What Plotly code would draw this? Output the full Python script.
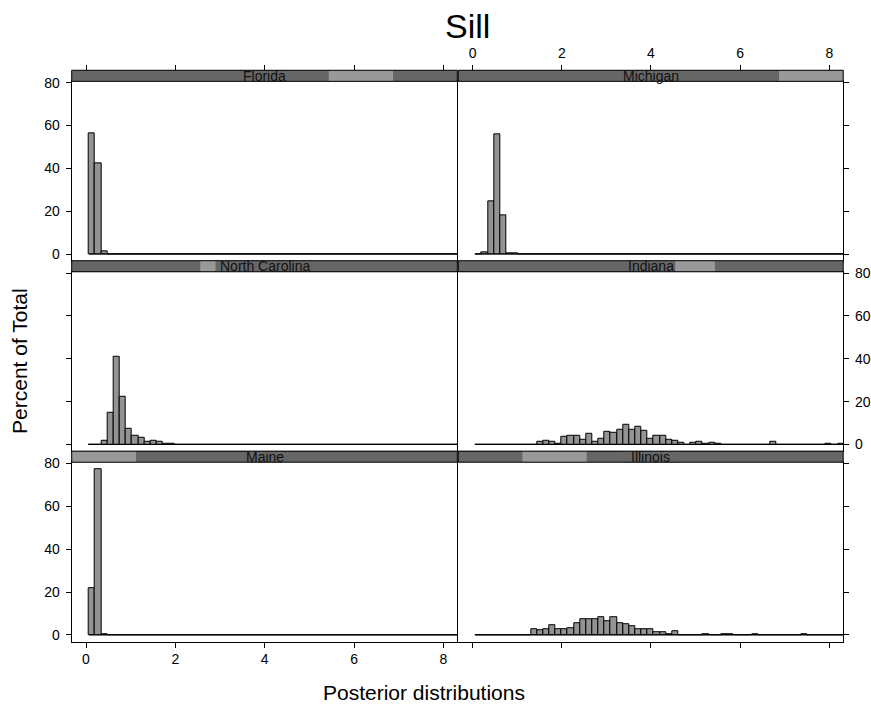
import plotly.graph_objects as go

# ---------------- data ----------------
states = ["Florida", "Michigan", "North Carolina", "Indiana", "Maine", "Illinois"]
# factor level order used by the strip indicator (lattice order)
level_order = ["Maine", "Illinois", "North Carolina", "Indiana", "Florida", "Michigan"]

bin_start = 0.067
bin_width = 0.1377
n_bins = 60

florida = [56.2, 42.4, 1.2]
michigan = [0, 0.8, 24.6, 55.7, 18.3, 0.4, 0.2]
north_carolina = [0, 0, 1.8, 14.8, 40.9, 22.3, 7.5, 4.1, 3.2, 1.5, 1.8, 1.1, 0.3, 0.2]
indiana = [0, 0, 0, 0, 0, 0, 0, 0, 0, 0,
           1.4, 1.8, 1.2, 0.3, 3.5, 4.0, 4.0, 2.3, 4.8, 1.4,
           2.8, 5.8, 5.4, 7.1, 9.2, 7.1, 8.5, 6.5, 2.6, 4.3,
           4.0, 2.3, 1.8, 0.6, 0, 0.6, 1.2, 0.5, 0.8, 0.3,
           0, 0, 0, 0, 0, 0, 0, 0, 1.2, 0,
           0, 0, 0, 0, 0, 0, 0, 0.3, 0, 0.5]
maine = [22.0, 77.5, 0.3]
illinois = [0, 0, 0, 0, 0, 0, 0, 0, 0, 2.9,
            2.0, 2.9, 4.5, 2.9, 2.5, 3.2, 5.4, 7.5, 7.5, 7.5,
            8.5, 6.3, 8.5, 5.7, 4.9, 4.3, 2.5, 2.5, 2.5, 1.2,
            1.2, 0.3, 1.7, 0, 0, 0, 0, 0.3, 0, 0,
            0.3, 0.3, 0, 0, 0, 0.3, 0, 0, 0, 0,
            0, 0, 0, 0.3, 0, 0, 0, 0, 0, 0]
series = {"Florida": florida, "Michigan": michigan, "North Carolina": north_carolina,
          "Indiana": indiana, "Maine": maine, "Illinois": illinois}

x_ticks = [0, 2, 4, 6, 8]
y_ticks = [0, 20, 40, 60, 80]
x_range = [-0.32, 8.31]

title = "Sill"
xlab = "Posterior distributions"
ylab = "Percent of Total"

# ---------------- style / layout ----------------
W, H = 871, 709
FONT = "Liberation Sans, Arial, Helvetica, sans-serif"
BAR_FILL = "#939393"
STRIP_DARK = "#666666"
STRIP_LIGHT = "#999999"

col_doms = [(71.7, 457.3), (458.3, 843.2)]
row_top = [64.0, 256.6, 449.2]
strip_h = 11.2
row_h = 192.6
panel_h = row_h - strip_h


def px_x(p):
    return p / W


def px_y(p):
    return 1 - p / H


def pad(vals):
    return list(vals) + [0] * (n_bins - len(vals))


centers = [bin_start + (k + 0.5) * bin_width for k in range(n_bins)]
ymax = max(max(v) for v in series.values())
y_range = [0 - 0.04 * ymax, ymax * 1.04]

fig = go.Figure()
layout = dict(width=W, height=H, margin=dict(l=0, r=0, t=0, b=0),
              paper_bgcolor="white", plot_bgcolor="white", showlegend=False,
              font=dict(family=FONT, size=14, color="black"))
shapes = []
annotations = []

for i, st in enumerate(states):
    idx = i + 1
    r, c = divmod(i, 2)
    xa = f"x{idx}" if idx > 1 else "x"
    ya = f"y{idx}" if idx > 1 else "y"
    vals = pad(series[st])
    fig.add_trace(go.Bar(x=centers, y=vals, width=[bin_width] * n_bins,
                         marker=dict(color=BAR_FILL, line=dict(color="black", width=1)),
                         xaxis=xa, yaxis=ya, hoverinfo="skip"))
    fig.add_trace(go.Scatter(x=[bin_start, bin_start + n_bins * bin_width], y=[0, 0],
                             mode="lines", line=dict(color="black", width=1),
                             xaxis=xa, yaxis=ya, hoverinfo="skip"))
    xdom = [px_x(col_doms[c][0]), px_x(col_doms[c][1])]
    ydom = [px_y(row_top[r] + row_h), px_y(row_top[r] + strip_h)]
    xkey = "xaxis" if idx == 1 else f"xaxis{idx}"
    ykey = "yaxis" if idx == 1 else f"yaxis{idx}"
    bottom = (r == 2)
    layout[xkey] = dict(domain=xdom, anchor=ya, range=x_range, showgrid=False, zeroline=False,
                        showline=True, mirror=True, linecolor="black", linewidth=1,
                        tickvals=x_ticks if bottom else [], ticks="outside" if bottom else "",
                        ticklen=5, tickwidth=1, tickcolor="black",
                        showticklabels=bottom and c == 0,
                        tickfont=dict(size=14, family=FONT, color="black"))
    show_ylab = (c == 0 and r in (0, 2)) or (c == 1 and r == 1)
    layout[ykey] = dict(domain=ydom, anchor=xa, range=y_range, showgrid=False, zeroline=False,
                        showline=True, mirror=True, linecolor="black", linewidth=1,
                        side="left" if c == 0 else "right",
                        tickvals=y_ticks, ticks="outside", ticklen=5, tickwidth=1,
                        tickcolor="black", showticklabels=show_ylab, ticklabelstandoff=3,
                        tickfont=dict(size=14, family=FONT, color="black"))

    # strip
    s_top = 1 + strip_h / panel_h
    xr, yr = f"{xa} domain", f"{ya} domain"
    shapes.append(dict(type="rect", xref=xr, yref=yr, x0=0, x1=1, y0=1, y1=s_top,
                       fillcolor=STRIP_DARK, line=dict(width=0)))
    lvl = level_order.index(st)
    shapes.append(dict(type="rect", xref=xr, yref=yr, x0=lvl / 6, x1=(lvl + 1) / 6,
                       y0=1, y1=s_top, fillcolor=STRIP_LIGHT, line=dict(width=0)))
    half_w = 7.0 * len(st) / 2 / (col_doms[c][1] - col_doms[c][0])
    shapes.append(dict(type="rect", xref=xr, yref=yr, x0=0.5 - half_w, x1=0.5 + half_w,
                       y0=1, y1=s_top, fillcolor=STRIP_DARK, line=dict(width=0)))
    shapes.append(dict(type="rect", xref=xr, yref=yr, x0=0, x1=1, y0=1, y1=s_top,
                       fillcolor="rgba(0,0,0,0)", line=dict(color="black", width=1)))
    annotations.append(dict(text=st, xref=xr, yref=yr, x=0.5, y=1 + strip_h / panel_h / 2,
                            xanchor="center", yanchor="middle", showarrow=False,
                            font=dict(size=14, family=FONT, color="#111111")))

# top tick axes (above strips)
for c, base in enumerate(["x", "x2"]):
    key = f"xaxis{7 + c}"
    layout[key] = dict(overlaying=base, anchor="free", position=px_y(row_top[0]), side="top",
                       range=x_range, showgrid=False, zeroline=False, showline=False,
                       tickvals=x_ticks, ticks="outside", ticklen=5, tickwidth=1,
                       tickcolor="black", showticklabels=(c == 1), ticklabelstandoff=2,
                       tickfont=dict(size=14, family=FONT, color="black"))
    fig.add_trace(go.Scatter(x=[None], y=[None], xaxis=f"x{7 + c}",
                             yaxis="y" if c == 0 else "y2", showlegend=False))

annotations.append(dict(text=title, xref="paper", yref="paper", x=px_x(467), y=px_y(19),
                        xanchor="center", yanchor="middle", showarrow=False,
                        font=dict(size=34, family=FONT, color="black")))
annotations.append(dict(text=xlab, xref="paper", yref="paper", x=px_x(424), y=px_y(693),
                        xanchor="center", yanchor="middle", showarrow=False,
                        font=dict(size=21, family=FONT, color="black")))
annotations.append(dict(text=ylab, xref="paper", yref="paper", x=px_x(20), y=px_y(358),
                        xanchor="center", yanchor="middle", showarrow=False, textangle=-90,
                        font=dict(size=21, family=FONT, color="black")))

layout["shapes"] = shapes
layout["annotations"] = annotations
layout["bargap"] = 0
fig.update_layout(**layout)
fig.write_html("out.html")
